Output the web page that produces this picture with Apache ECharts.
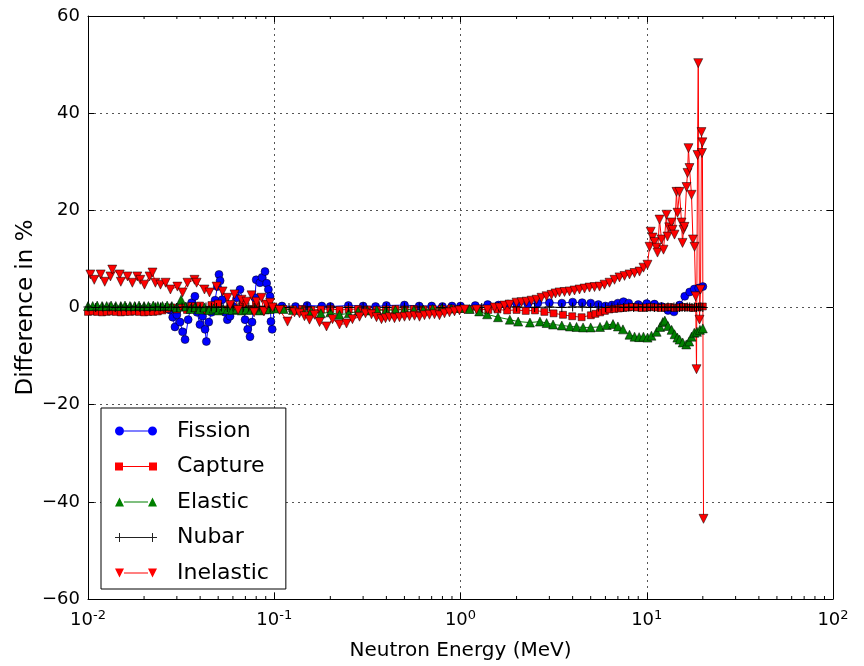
<!DOCTYPE html>
<html>
<head>
<meta charset="utf-8">
<script src="https://cdn.jsdelivr.net/npm/echarts@6/dist/echarts.min.js"></script>
<style>
html,body{margin:0;padding:0;background:#fff;}
#chart{width:864px;height:666px;}
</style>
</head>
<body>
<div id="chart"></div>
<script>
// ---------------- data ----------------
const seriesNames = ['Fission', 'Capture', 'Elastic', 'Nubar', 'Inelastic'];

const fissionE = [0.0275,0.0285,0.0293,0.0300,0.0312,0.0322,0.0332,0.0345,0.0360,0.0375,0.0385,0.0399,0.0412,0.0425,0.0432,0.0445,0.0460,0.0481,0.0495,0.0505,0.0512,0.0525,0.0544,0.0560,0.0579,0.0600,0.0630,0.0655,0.0680,0.0697,0.0720,0.0741,0.0760,0.0788,0.0800,0.0838,0.0860,0.0892,0.0910,0.0930,0.0949,0.0960,0.0975,0.1000,
  0.11,0.13,0.15,0.18,0.20,0.25,0.30,0.35,0.40,0.50,0.60,0.70,0.80,0.90,1.0,1.2,1.4,1.6,1.8,2.0,2.3,2.6,3.0,3.5,4.0,4.5,5.0,5.5,6.0,6.5,7.0,7.5,8.0,9.0,10,11,12,13,14,15,16,17,18,19,20];
const fissionV = [-0.5,-2.0,-4.0,-1.5,-3.0,-5.0,-6.6,-2.5,1.0,2.3,-1.0,-3.5,-1.8,-4.5,-7.0,-3.0,-1.0,1.5,4.3,6.8,5.5,1.6,-1.0,-2.5,-1.8,0.2,2.0,3.7,1.0,-2.5,-4.5,-6.0,-3.0,2.0,5.7,5.1,6.2,7.4,5.0,3.7,2.3,-2.9,-4.5,0.0,
  0.3,0.2,0.4,0.3,0.2,0.4,0.3,0.2,0.4,0.5,0.3,0.3,0.2,0.3,0.3,0.4,0.6,0.5,0.7,0.8,0.7,0.9,1.0,0.9,1.1,1.0,0.9,0.6,0.3,0.5,0.9,1.2,0.9,0.6,0.8,0.7,0.2,-0.6,-0.9,0.5,2.3,3.2,3.8,4.0,4.3];

const captureE = [0.0100,0.0106,0.0112,0.0119,0.0126,0.0133,0.0141,0.0150,0.0158,0.0168,0.0178,0.0188,0.0200,0.0211,0.0224,0.0237,0.0251,0.0266,0.0282,
  0.0300,0.0320,0.0340,0.0360,0.0380,0.0400,0.0430,0.0460,0.0500,0.0540,0.0580,0.0630,0.0680,0.0740,0.0800,0.0870,0.0940,0.1000,
  0.1120,0.1260,0.1410,0.1580,0.1780,0.2000,0.2240,0.2510,0.2820,0.3160,0.3550,0.3980,0.4470,0.5010,0.5620,0.6310,0.7080,0.7940,0.8910,
  1.000,1.120,1.260,1.410,1.580,1.780,2.000,2.240,2.510,2.820,3.160,3.550,3.980,4.470,
  5.010,5.300,5.620,5.960,6.310,6.680,7.080,7.500,7.940,8.410,8.910,9.440,10.00,10.60,11.20,11.90,12.60,13.30,14.10,14.90,15.80,16.80,17.80,18.80,20.00];
const captureV = [-0.9,-0.8,-0.9,-1.0,-0.9,-0.8,-0.9,-1.0,-0.9,-0.9,-0.8,-0.9,-1.0,-0.9,-0.9,-0.8,-0.6,-0.3,0.0,
  -0.4,0.2,-0.5,0.3,-0.2,0.4,-0.6,0.5,0.8,-0.4,0.3,-0.5,0.6,-0.3,0.5,-0.4,0.3,-0.2,
  -0.3,-0.4,-0.3,-0.5,-0.4,-0.3,-0.5,-0.4,-0.3,-0.4,-0.5,-0.4,-0.3,-0.4,-0.3,-0.4,-0.3,-0.3,-0.2,
  -0.3,-0.4,-0.3,-0.5,-0.4,-0.6,-0.5,-0.7,-0.6,-0.9,-1.2,-1.5,-1.8,-2.0,
  -1.6,-1.3,-1.0,-0.7,-0.4,-0.3,-0.2,-0.1,0.0,0.1,0.0,-0.1,0.0,0.1,0.0,-0.1,0.0,0.1,-0.1,0.0,0.1,0.0,-0.1,0.1,0.2];

const elasticE = [0.0100,0.0106,0.0112,0.0119,0.0126,0.0133,0.0141,0.0150,0.0158,0.0168,0.0178,0.0188,0.0200,0.0211,0.0224,0.0237,0.0251,0.0266,0.0282,
  0.0299,0.0316,0.0335,0.0355,0.0376,0.0398,0.0422,0.0447,0.0473,0.0501,0.0531,0.0562,0.0596,0.0631,0.0668,0.0708,0.0750,0.0794,0.0841,0.0891,0.0944,0.1000,
  0.112,0.126,0.141,0.158,0.178,0.200,0.224,0.251,0.282,0.316,0.355,0.398,0.447,0.501,0.562,0.631,0.708,0.794,0.891,1.00,1.12,1.26,
  1.39,1.59,1.84,2.04,2.36,2.67,2.90,3.14,3.50,3.87,4.20,4.55,5.00,5.61,6.10,6.59,7.00,7.45,8.08,8.60,9.10,9.60,10.1,10.6,11.3,11.8,12.2,12.5,13.0,13.6,14.1,14.6,15.0,15.6,16.3,16.9,17.4,18.0,18.6,19.3,20.0];
const elasticV = [0.3,0.3,0.4,0.3,0.3,0.4,0.3,0.3,0.4,0.3,0.3,0.4,0.3,0.3,0.4,0.3,0.3,0.4,0.3,
  0.0,1.6,0.2,-0.3,0.1,-0.4,0.0,-0.5,-0.2,-0.6,-0.3,-0.4,-0.5,-0.3,-0.6,-0.4,-0.5,-0.3,-0.6,-0.4,-0.3,-0.2,
  -0.3,-0.5,-0.6,-0.8,-1.2,-1.0,-1.5,-1.2,-0.8,-0.6,-0.5,-0.6,-0.5,-0.4,-0.5,-0.4,-0.3,-0.2,-0.2,-0.1,-0.3,-0.8,
  -1.4,-2.0,-2.5,-2.9,-3.1,-2.9,-3.2,-3.5,-3.7,-3.9,-4.0,-4.1,-4.1,-4.0,-3.6,-3.4,-3.9,-4.5,-5.6,-6.0,-6.1,-6.0,-6.2,-5.8,-5.0,-4.0,-3.0,-2.7,-3.8,-4.6,-5.5,-6.2,-6.6,-7.2,-7.6,-7.0,-6.0,-5.2,-5.0,-4.6,-4.3];

const nubarE = [0.0100,0.0110,0.0120,0.0130,0.0140,0.0150,0.0160,0.0170,0.0180,0.0190,0.0200,
  0.0215,0.0230,0.0245,0.0260,0.0280,0.0300,0.0320,0.0340,0.0360,0.0380,0.0400,
  0.0430,0.0460,0.0490,0.0520,0.0560,0.0600,0.0640,0.0680,0.0730,0.0780,0.0830,0.0890,0.0950,0.1000,
  0.1200,0.1500,0.2000,0.2500,0.3000,0.4000,0.5000,0.6000,0.8000,1.000,
  1.300,1.600,2.000,2.500,3.000,3.500,4.000,4.500,5.000,5.500,
  6.000,6.500,7.000,7.500,8.000,8.500,9.000,9.500,10.00,
  10.50,11.00,11.50,12.00,12.50,13.00,13.50,14.00,14.50,15.00,15.50,16.00,16.50,17.00,17.50,18.00,18.50,19.00,19.50,20.00];
const nubarV = [0.1,0.0,0.1,0.1,0.0,0.1,0.0,0.1,0.1,0.0,0.1,
  0.0,0.1,0.1,0.0,0.1,0.0,0.1,0.1,0.0,0.1,0.0,
  0.1,0.1,0.0,0.1,0.0,0.1,0.1,0.0,0.1,0.0,0.1,0.1,0.0,0.1,
  0.0,0.1,0.1,0.0,0.1,0.0,0.1,0.1,0.0,0.1,
  0.0,0.1,0.1,0.0,0.1,0.0,0.1,0.1,0.0,0.1,
  0.0,0.1,0.1,0.0,0.1,0.0,0.1,0.1,0.0,
  0.1,0.0,0.1,0.1,0.0,0.1,0.0,0.1,0.1,0.0,0.1,0.0,0.1,0.1,0.0,0.1,0.0,0.1,0.1,0.0];

const inelasticE = [0.0103,0.0108,0.0117,0.0123,0.0132,0.0135,0.0148,0.0150,0.0163,0.0173,0.0184,0.0191,0.0201,0.0214,0.0222,0.0230,0.0245,0.0261,0.0277,0.0302,0.0322,0.0342,0.0373,0.0383,0.0422,0.0449,0.0490,0.0528,0.0561,0.0580,0.0612,0.0640,0.0667,0.0710,0.0755,0.0780,0.0803,0.0854,0.0880,0.0909,0.0950,0.0979,
  0.1067,0.1178,0.1284,0.1366,0.1453,0.1546,0.1645,0.1750,0.1908,0.2055,0.2240,0.2443,0.2630,0.2869,0.3090,0.3327,0.3540,0.3765,0.3957,0.4157,0.4421,0.4703,0.5003,0.5322,0.5662,0.6023,0.6406,0.6815,0.7250,0.7713,0.8205,0.8727,0.9286,0.9877,
  1.051,1.219,1.396,1.522,1.620,1.723,1.833,1.998,2.126,2.262,2.406,2.559,2.722,2.896,3.081,3.237,3.401,3.618,3.848,4.094,4.355,4.633,4.928,5.243,5.577,5.933,6.310,6.713,7.141,7.596,8.081,8.596,9.144,9.607,10.09,
  10.35,10.50,10.74,11.00,11.28,11.42,11.71,12.00,12.30,12.76,12.92,13.20,13.58,13.75,14.09,14.44,14.63,14.99,15.37,15.56,15.75,15.95,16.35,16.55,16.75,16.96,17.39,17.70,18.05,18.30,18.50,18.73,18.90,19.20,19.45,19.68,19.80,19.90,20.17];
const inelasticV = [6.8,5.7,6.8,5.3,6.4,7.8,6.8,5.3,6.4,5.1,6.4,5.7,4.7,6.4,7.2,5.1,4.7,5.1,3.7,4.3,3.1,5.1,5.7,5.1,3.7,3.1,4.3,3.3,2.0,0.5,2.7,-0.5,1.6,1.2,2.5,-1.0,1.2,2.0,-0.8,0.6,1.0,0.0,
  -0.5,-2.9,-1.0,-1.2,-1.8,-2.5,-1.5,-3.0,-3.9,-2.4,-3.5,-3.3,-2.4,-1.9,-1.2,-1.4,-2.0,-2.4,-2.2,-2.0,-2.2,-2.0,-1.9,-1.8,-1.7,-1.9,-1.6,-1.5,-1.4,-1.6,-1.2,-1.0,-0.8,-0.6,
  -0.4,-0.4,-0.4,0.0,0.0,0.4,0.6,1.0,1.1,1.2,1.4,1.6,2.0,2.3,2.6,2.9,3.1,3.2,3.3,3.5,3.7,3.9,4.1,4.2,4.3,4.7,5.1,5.7,6.2,6.5,6.8,7.1,7.4,8.2,8.8,
  12.5,15.6,14.4,13.5,12.3,11.3,18.1,14.0,11.9,19.1,14.6,16.5,17.5,16.0,15.0,23.8,19.5,23.8,17.5,13.3,16.0,16.6,24.8,27.7,32.8,28.7,23.2,14.0,12.5,2.3,-12.7,31.4,50.3,-2.5,3.7,36.1,31.8,34.0,-43.5];

// axes / ticks
const xTickVals = [0.01, 0.1, 1, 10, 100];
const xTickExps = ['-2', '-1', '0', '1', '2'];
const xMinorTicks = [0.02,0.03,0.04,0.05,0.06,0.07,0.08,0.09, 0.2,0.3,0.4,0.5,0.6,0.7,0.8,0.9, 2,3,4,5,6,7,8,9, 20,30,40,50,60,70,80,90];
const yTickVals = [-60, -40, -20, 0, 20, 40, 60];
const yTickLabels = ['\u221260', '\u221240', '\u221220', '0', '20', '40', '60'];
const xTitle = 'Neutron Energy (MeV)';
const yTitle = 'Difference in %';

// ---------------- chart ----------------
const FONT = 'DejaVu Sans';
function zip(a, b) { const n = Math.min(a.length, b.length); const r = []; for (let i = 0; i < n; i++) r.push([a[i], b[i]]); return r; }

const plusPath = 'path://M4,0H5V4H9V5H5V9H4V5H0V4H4Z';
const icons = {
  Fission: 'path://M0,4.5A4.5,4.5,0,1,1,9,4.5A4.5,4.5,0,1,1,0,4.5ZM9,4L33,4L33,5L9,5ZM33,4.5A4.5,4.5,0,1,1,42,4.5A4.5,4.5,0,1,1,33,4.5Z',
  Capture: 'path://M0,0.5H8V8.5H0ZM8,4H34V5H8ZM34,0.5H42V8.5H34Z',
  Elastic: 'path://M4.5,0L9,9H0ZM9,4H33V5H9ZM37.5,0L42,9H33Z',
  Nubar: 'path://M4,0H5V4H9V5H5V9H4V5H0V4H4ZM9,4H33V5H9ZM37,0H38V4H42V5H38V9H37V5H33V4H37Z',
  Inelastic: 'path://M0,0H9L4.5,9ZM9,4H33V5H9ZM33,0H42L37.5,9Z'
};

function lineSeries(name, E, V, color, symbol, size, rotate) {
  return {
    name: name, type: 'line', data: zip(E, V),
    symbol: symbol, symbolSize: size, symbolRotate: rotate || 0,
    showSymbol: true, showAllSymbol: true,
    lineStyle: { color: color, width: 1 },
    itemStyle: { color: color, borderColor: '#000', borderWidth: 0.5 },
    emphasis: { disabled: true },
    animation: false
  };
}

const chart = echarts.init(document.getElementById('chart'), null, { renderer: 'canvas' });

const option = {
  backgroundColor: '#fff',
  animation: false,
  textStyle: { fontFamily: FONT },
  grid: { left: 88, right: 31, top: 16, bottom: 65, containLabel: false },
  legend: {
    orient: 'vertical', left: 101, top: 408,
    padding: [12, 17, 5, 14], itemGap: 13.5,
    itemWidth: 42, itemHeight: 9,
    backgroundColor: '#fff', borderColor: '#000', borderWidth: 1, borderRadius: 0,
    textStyle: { fontFamily: FONT, fontSize: 22, color: '#000', padding: [0, 0, 0, 15] },
    data: [
      { name: 'Fission', icon: icons.Fission, itemStyle: { color: '#0000ff', borderWidth: 0 } },
      { name: 'Capture', icon: icons.Capture, itemStyle: { color: '#ff0000', borderWidth: 0 } },
      { name: 'Elastic', icon: icons.Elastic, itemStyle: { color: '#008000', borderWidth: 0 } },
      { name: 'Nubar', icon: icons.Nubar, itemStyle: { color: '#222', borderWidth: 0 } },
      { name: 'Inelastic', icon: icons.Inelastic, itemStyle: { color: '#ff0000', borderWidth: 0 } }
    ],
    selectedMode: false
  },
  xAxis: [
    {
      type: 'log', logBase: 10, min: 0.01, max: 100, position: 'bottom',
      name: xTitle, nameLocation: 'middle', nameGap: 42,
      nameTextStyle: { fontFamily: FONT, fontSize: 20, color: '#000' },
      axisLine: { show: true, onZero: false, lineStyle: { color: '#000', width: 1 } },
      axisTick: { show: true, inside: true, length: 6, lineStyle: { color: '#000' } },
      axisLabel: {
        show: true, margin: 10, color: '#000',
        formatter: function (v) {
          let best = 0;
          for (let i = 0; i < xTickVals.length; i++) if (Math.abs(Math.log10(v) - Math.log10(xTickVals[i])) < 0.01) best = i;
          return '{b|10}{s|' + xTickExps[best] + '}';
        },
        rich: {
          b: { fontFamily: FONT, fontSize: 18, color: '#000' },
          s: { fontFamily: FONT, fontSize: 13, color: '#000', padding: [0, 0, 10, 0] }
        }
      },
      splitLine: { show: true, lineStyle: { color: '#555', width: 1, type: [2, 4] } }
    },
    {
      type: 'log', logBase: 10, min: 0.01, max: 100, position: 'top',
      axisLine: { show: true, onZero: false, lineStyle: { color: '#000', width: 1 } },
      axisTick: { show: true, inside: true, length: 6, lineStyle: { color: '#000' } },
      axisLabel: { show: false }, splitLine: { show: false }
    }
  ],
  yAxis: [
    {
      type: 'value', min: -60, max: 60, interval: 20, position: 'left',
      name: yTitle, nameLocation: 'middle', nameGap: 50, nameRotate: 90, nameMoveOverlap: false,
      nameTextStyle: { fontFamily: FONT, fontSize: 23, color: '#000' },
      axisLine: { show: true, onZero: false, lineStyle: { color: '#000', width: 1 } },
      axisTick: { show: true, inside: true, length: 6, lineStyle: { color: '#000' } },
      axisLabel: {
        show: true, margin: 8, color: '#000', fontFamily: FONT, fontSize: 18,
        formatter: function (v) { const i = yTickVals.indexOf(v); return i >= 0 ? yTickLabels[i] : String(v); }
      },
      splitLine: { show: true, lineStyle: { color: '#555', width: 1, type: [2, 4] } }
    },
    {
      type: 'value', min: -60, max: 60, interval: 20, position: 'right',
      axisLine: { show: true, onZero: false, lineStyle: { color: '#000', width: 1 } },
      axisTick: { show: true, inside: true, length: 6, lineStyle: { color: '#000' } },
      axisLabel: { show: false }, splitLine: { show: false }
    }
  ],
  series: [
    {
      name: 'minorTicks', type: 'custom', xAxisIndex: 0, yAxisIndex: 0, silent: true, z: 1,
      data: xMinorTicks.map(function (e) { return [e]; }),
      renderItem: function (params, api) {
        const b = api.coord([api.value(0), -60]);
        const t = api.coord([api.value(0), 60]);
        const st = { stroke: '#000', lineWidth: 1 };
        return { type: 'group', children: [
          { type: 'line', shape: { x1: b[0], y1: b[1], x2: b[0], y2: b[1] - 3 }, style: st },
          { type: 'line', shape: { x1: t[0], y1: t[1], x2: t[0], y2: t[1] + 3 }, style: st }
        ] };
      },
      clip: false
    },
    lineSeries('Fission', fissionE, fissionV, '#0000ff', 'circle', 8),
    lineSeries('Capture', captureE, captureV, '#ff0000', 'rect', 7),
    lineSeries('Elastic', elasticE, elasticV, '#008000', 'triangle', 9),
    Object.assign(lineSeries('Nubar', nubarE, nubarV, '#000000', plusPath, 9), { itemStyle: { color: '#000', borderWidth: 0 } }),
    lineSeries('Inelastic', inelasticE, inelasticV, '#ff0000', 'triangle', 9, 180)
  ]
};
chart.setOption(option);
</script>
</body>
</html>
